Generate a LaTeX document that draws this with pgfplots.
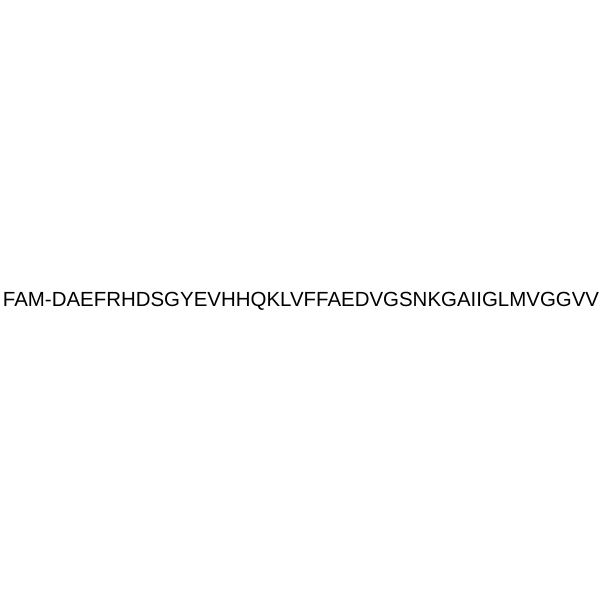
\documentclass[border=0pt]{standalone}
\usepackage{fontspec}
\setmainfont{Liberation Sans}
\usepackage{pgfplots}
\pgfplotsset{compat=1.18}
\begin{document}
\begin{tikzpicture}
\begin{axis}[
  hide axis,
  scale only axis,
  width=600bp, height=600bp,
  xmin=0, xmax=600, ymin=0, ymax=600,
  clip=false,
]
\addplot[draw=none] coordinates {(0,0) (600,600)};
\path (rel axis cs:0,0) rectangle (rel axis cs:1,1);
\node[anchor=base, inner sep=0pt, font=\fontsize{20.45bp}{24bp}\selectfont]
  at (axis cs:301,293.5) {FAM-DAEFRHDSGYEVHHQKLVFFAEDVGSNKGAIIGLMVGGVV};
\end{axis}
\end{tikzpicture}
\end{document}
